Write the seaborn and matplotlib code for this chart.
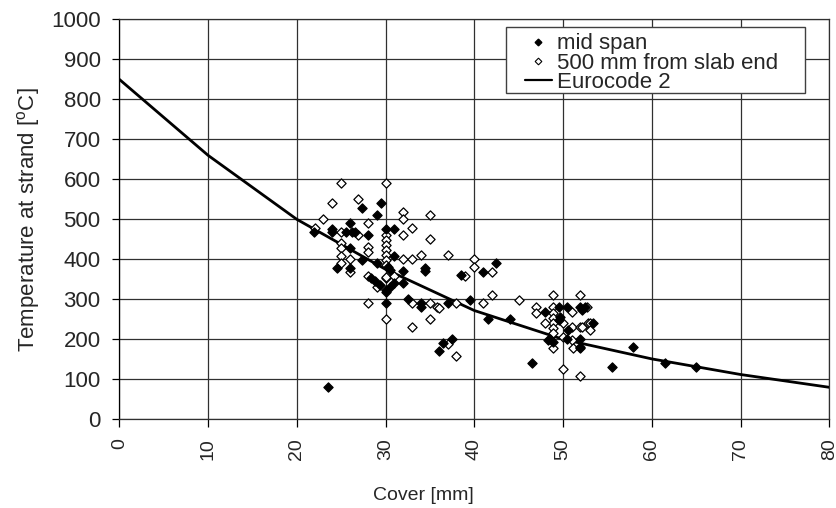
import numpy as np
import pandas as pd
import matplotlib
matplotlib.use("Agg")
import matplotlib.pyplot as plt
import seaborn as sns
from matplotlib.lines import Line2D
from matplotlib.patches import Rectangle

# --- data -------------------------------------------------------------
mid_cover = [29.5, 27.4, 29.0, 26.0, 24.0, 24.0, 25.6, 26.2, 26.6, 21.9, 28.0, 30.0, 31.0,
             26.0, 27.4, 24.5, 26.0, 29.0, 31.0, 30.3, 30.5, 32.0, 34.4, 34.4, 28.4, 28.8,
             29.4, 30.0, 31.0, 32.0, 30.5, 32.5, 30.0, 30.0, 34.0, 34.0, 36.0, 23.5, 42.5,
             41.0, 38.5, 39.5, 37.0, 41.5, 44.0, 37.5, 36.5, 46.5, 48.0, 49.5, 50.5, 51.9,
             49.5, 49.7, 50.6, 48.3, 48.9, 48.5, 50.5, 51.9, 51.9, 52.5, 52.1, 53.4, 51.9,
             57.9, 55.5, 61.5, 65.0]
mid_temp = [540, 529, 511, 490, 477, 469, 469, 469, 469, 469, 461, 477, 477,
            429, 398, 379, 378, 390, 408, 382, 373, 371, 379, 371, 354, 346,
            336, 323, 340, 340, 332, 302, 319, 290, 290, 280, 170, 80, 390,
            369, 361, 298, 290, 250, 250, 200, 190, 140, 269, 282, 282, 282,
            248, 257, 223, 198, 194, 202, 200, 200, 178, 280, 273, 240, 182,
            180, 130, 140, 130]

end_cover = [25.0, 30.0, 24.0, 26.9, 32.0, 32.0, 35.0, 23.0, 22.0, 28.0, 25.0, 26.9, 33.0,
             32.0, 35.0, 30.0, 30.0, 30.0, 30.0, 30.0, 30.0, 30.0, 30.0, 25.0, 25.0, 28.0,
             28.0, 25.0, 26.0, 32.0, 33.0, 34.0, 25.0, 26.0, 28.0, 29.0, 30.0, 31.0, 28.0,
             30.0, 33.0, 35.0, 35.8, 33.0, 35.0, 37.0, 40.0, 40.0, 42.0, 39.0, 42.0, 45.0,
             41.0, 37.9, 36.0, 37.0, 37.9, 48.9, 51.9, 47.0, 47.0, 48.9, 51.0, 52.7, 48.9,
             48.9, 48.9, 48.9, 48.9, 48.0, 50.0, 51.0, 51.9, 52.8, 50.0, 51.0, 51.1, 48.9,
             50.0, 51.9, 53.0, 53.0, 52.1]
end_temp = [590, 590, 540, 550, 519, 500, 511, 500, 479, 490, 469, 461, 479,
            461, 450, 461, 448, 436, 423, 411, 398, 386, 353, 440, 428, 430,
            419, 408, 400, 400, 400, 411, 390, 369, 358, 332, 357, 358, 290,
            250, 290, 290, 280, 230, 250, 411, 400, 380, 369, 359, 311, 298,
            290, 290, 279, 188, 158, 311, 311, 282, 265, 282, 269, 282, 265,
            253, 240, 228, 215, 240, 240, 232, 232, 240, 207, 198, 178, 178,
            127, 108, 240, 223, 230]

ec_cover = [0, 10, 20, 30, 40, 50, 60, 70, 80]
ec_temp = [850, 660, 500, 375, 272, 200, 151, 112, 80]

x_ticks = [0, 10, 20, 30, 40, 50, 60, 70, 80]
y_ticks = [0, 100, 200, 300, 400, 500, 600, 700, 800, 900, 1000]

labels = ["mid span", "500 mm from slab end", "Eurocode 2"]

# --- style ------------------------------------------------------------
sns.set_theme(style="white")
plt.rcParams['font.family'] = ['Liberation Sans', 'DejaVu Sans']
plt.rcParams['mathtext.default'] = 'regular'

fig = plt.figure(figsize=(8.37, 5.08), dpi=100)
ax = fig.add_axes([0.1425, 0.1746, 0.9908 - 0.1425, 0.962 - 0.1746])

df_mid = pd.DataFrame({"cover": mid_cover, "temp": mid_temp})
df_end = pd.DataFrame({"cover": end_cover, "temp": end_temp})
df_ec = pd.DataFrame({"cover": ec_cover, "temp": ec_temp})

sns.lineplot(data=df_ec, x="cover", y="temp", ax=ax, color="black", lw=2.0,
             zorder=3, legend=False)
sns.scatterplot(data=df_end, x="cover", y="temp", ax=ax, marker="D", s=22,
                facecolor="white", edgecolor="black", linewidth=0.9, zorder=4,
                legend=False)
sns.scatterplot(data=df_mid, x="cover", y="temp", ax=ax, marker="D", s=22,
                color="black", edgecolor="black", linewidth=0.9, zorder=5,
                legend=False)

ax.set_xlim(0, 80)
ax.set_ylim(0, 1000)
ax.set_xticks(x_ticks)
ax.set_yticks(y_ticks)
ax.set_xticklabels([str(t) for t in x_ticks], rotation=90, fontsize=14)
ax.set_yticklabels([str(t) for t in y_ticks], fontsize=16)
ax.grid(True, color="#303030", lw=0.9)
ax.set_axisbelow(True)
for sp in ax.spines.values():
    sp.set_color("#303030")
    sp.set_linewidth(0.9)
ax.spines["left"].set_color("black")
ax.tick_params(axis="both", which="both", direction="out", length=5.4, width=0.9,
               color="black", left=True, bottom=True, pad=8)

ax.set_xlabel("Cover [mm]", fontsize=14)
ax.xaxis.set_label_coords(0.428, -0.17)
ax.set_ylabel("Temperature at strand [$^{o}$C]", fontsize=16)
ax.yaxis.set_label_coords(-0.1085, 0.5)

handles = [
    Line2D([], [], marker="D", ls="none", color="black", markersize=3.4),
    Line2D([], [], marker="D", ls="none", markerfacecolor="white",
           markeredgecolor="black", markersize=3.4, markeredgewidth=0.8),
    Line2D([], [], color="black", lw=1.6),
]
leg = ax.legend(handles, labels, loc="upper left",
                bbox_to_anchor=(0.5714, 0.965), borderaxespad=0, fontsize=16,
                frameon=False, labelspacing=-0.08, handlelength=1.2,
                handletextpad=0.25, borderpad=0)
leg.set_zorder(11)
ax.add_patch(Rectangle((0.5446, 0.8165), 0.9658 - 0.5446, 0.98 - 0.8165,
                       transform=ax.transAxes, facecolor="white",
                       edgecolor="#404040", lw=1.0, zorder=10, clip_on=False))

fig.savefig("out.png", dpi=100)
